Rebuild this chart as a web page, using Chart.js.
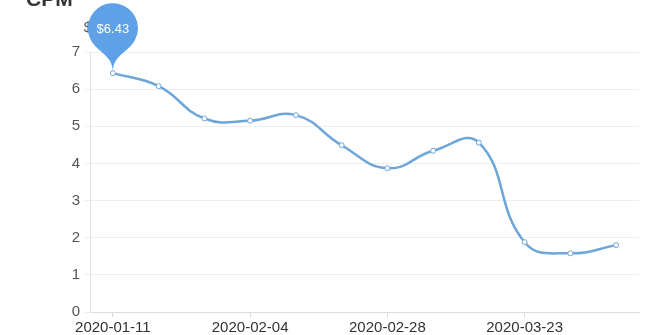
<!DOCTYPE html>
<html>
<head>
<meta charset="utf-8">
<script src="https://cdn.jsdelivr.net/npm/chart.js@4"></script>
<style>
  html, body { margin: 0; padding: 0; background: #fff; }
  #wrap { width: 670px; height: 335px; }
</style>
</head>
<body>
<div id="wrap"><canvas id="myChart" width="670" height="335"></canvas></div>
<script>
const dates = ['2020-01-11', '2020-01-19', '2020-01-27', '2020-02-04', '2020-02-12', '2020-02-20',
               '2020-02-28', '2020-03-07', '2020-03-15', '2020-03-23', '2020-03-31', '2020-04-08'];
const cpm = [6.43, 6.08, 5.21, 5.15, 5.30, 4.49, 3.87, 4.34, 4.56, 1.88, 1.58, 1.80];
const yTicks = [0, 1, 2, 3, 4, 5, 6, 7];

const lineColor = '#6ea6d8';
const pinColor = '#5ea1e6';

// title + y axis name
const textPlugin = {
   id: 'texts',
   beforeDatasetsDraw(chart) {
      const ctx = chart.ctx;
      ctx.save();
      ctx.fillStyle = '#333';
      ctx.font = 'bold 21px "Liberation Sans", Arial, sans-serif';
      ctx.textBaseline = 'alphabetic';
      ctx.fillText('CPM', 26, 6);
      ctx.fillStyle = '#555';
      ctx.font = '15px "Liberation Sans", Arial, sans-serif';
      ctx.textAlign = 'center';
      ctx.textBaseline = 'middle';
      ctx.fillText('$', 88, 28);
      ctx.restore();
   }
};

// max value marker, pin shape
const pinPlugin = {
   id: 'pin',
   afterDatasetsDraw(chart) {
      const data = chart.data.datasets[0].data;
      const idx = data.indexOf(Math.max(...data));
      const pt = chart.getDatasetMeta(0).data[idx];
      const x = pt.x, y = pt.y - 1;
      const r = 25;
      const D = 44;
      const k = (D + Math.sqrt(D * D + 4 * r * r)) / 2;
      const dy = r * r / k;
      const cy = y - D;
      const angle = Math.asin(dy / r);
      const dx = Math.cos(angle) * r;
      const tanX = Math.sin(angle), tanY = Math.cos(angle);
      const cpLen = r * 0.6, cpLen2 = r * 0.7;
      const ctx = chart.ctx;
      ctx.save();
      ctx.beginPath();
      ctx.moveTo(x - dx, cy + dy);
      ctx.arc(x, cy, r, Math.PI - angle, Math.PI * 2 + angle);
      ctx.bezierCurveTo(x + dx - tanX * cpLen, cy + dy + tanY * cpLen, x, y - cpLen2, x, y);
      ctx.bezierCurveTo(x, y - cpLen2, x - dx + tanX * cpLen, cy + dy + tanY * cpLen, x - dx, cy + dy);
      ctx.closePath();
      ctx.fillStyle = pinColor;
      ctx.fill();
      ctx.fillStyle = '#fff';
      ctx.font = '13px "Liberation Sans", Arial, sans-serif';
      ctx.textAlign = 'center';
      ctx.textBaseline = 'middle';
      ctx.fillText('$' + data[idx].toFixed(2), x, cy + 1);
      ctx.restore();
   }
};

var ctx = document.getElementById('myChart');
var myChart = new Chart(ctx, {
   type: 'line',
   data: {
      labels: dates,
      datasets: [
         {
            data: cpm,
            borderColor: lineColor,
            borderWidth: 2.5,
            tension: 0.45,
            fill: false,
            pointRadius: 2.5,
            pointBorderWidth: 1,
            pointBackgroundColor: '#fff',
            pointBorderColor: lineColor,
         },
      ],
   },
   options: {
      responsive: false,
      animation: false,
      layout: {
         padding: { top: 52, right: 31, left: 0, bottom: 0 }
      },
      plugins: {
         legend: { display: false },
         tooltip: { enabled: false }
      },
      scales: {
         x: {
            offset: true,
            grid: {
               display: true,
               drawOnChartArea: false,
               offset: false,
               tickLength: 5,
               color: (c) => (c.index % 3 === 0 ? '#d6d6d6' : 'rgba(0,0,0,0)')
            },
            border: { color: '#dddddd' },
            ticks: {
               autoSkip: false,
               maxRotation: 0,
               padding: 2,
               color: '#333',
               font: { size: 15, family: '"Liberation Sans", Arial, sans-serif' },
               callback: function (v, i) { return i % 3 === 0 ? dates[i] : ''; }
            },
            afterFit: (s) => { s.height = 23; }
         },
         y: {
            min: yTicks[0],
            max: yTicks[yTicks.length - 1],
            afterBuildTicks: (s) => { s.ticks = yTicks.map(v => ({ value: v })); },
            grid: { color: '#eeeeee', tickLength: 5 },
            border: { color: '#e2e2e2' },
            ticks: {
               padding: 5,
               color: '#555',
               font: { size: 15, family: '"Liberation Sans", Arial, sans-serif' }
            },
            afterFit: (s) => { s.width = 90; }
         }
      }
   },
   plugins: [textPlugin, pinPlugin]
});
</script>
</body>
</html>
